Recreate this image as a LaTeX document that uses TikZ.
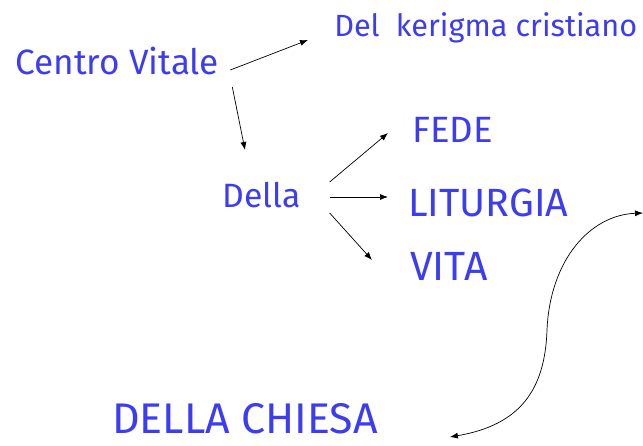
\documentclass[tikz,border=0pt]{standalone}
\usepackage{fontspec}
\setmainfont{Fira Sans}
\usepackage{tikz}
\usetikzlibrary{arrows.meta}
\definecolor{Ink}{HTML}{3C3CF0}

\begin{document}
\begin{tikzpicture}[
    x=0.025cm,y=-0.025cm,
    word/.style={text=Ink,inner sep=0pt,anchor=west,font=\fontsize{#1}{#1}\selectfont},
    arrow/.style={-{Latex[length=2mm,width=1.5mm]},line width=0.5pt,draw=black},
    bothway/.style={{Latex[length=2mm,width=1.5mm]}-{Latex[length=2mm,width=1.5mm]},line width=0.5pt,draw=black}
]
\useasboundingbox (0,0) rectangle (643,446);
\node[word=25pt] (centro) at (15,61) {Centro Vitale};
\node[word=21.8pt] (kerigma) at (334,28) {Del\ \ kerigma cristiano};
\node[word=24pt] (della) at (222,195) {Della};
\node[word=26pt] (fede) at (412,130) {FEDE};
\node[word=28pt] (liturgia) at (408,203) {LITURGIA};
\node[word=29pt] (vita) at (410,266) {VITA};
\node[word=30.5pt] (chiesa) at (112,419) {DELLA CHIESA};
\coordinate (loopend) at (643,213);

\draw[arrow] ([shift={(11,9)}]centro.east)--([shift={(-26,12)}]kerigma.west);
\draw[arrow] ([shift={(13,26)}]centro.east)--([shift={(23,-45)}]della.west);
\draw[arrow] ([shift={(29,-13)}]della.east)--([shift={(-24,3)}]fede.west);
\draw[arrow] ([shift={(29,2)}]della.east)--([shift={(-20,-6)}]liturgia.west);
\draw[arrow] ([shift={(29,18)}]della.east)--([shift={(-38,-6)}]vita.west);
\draw[bothway] ([shift={(72,18)}]chiesa.east) .. controls (520,425) and (545,390) .. (547,330)
  .. controls (550,260) and (590,215) .. (loopend);
\end{tikzpicture}
\end{document}
